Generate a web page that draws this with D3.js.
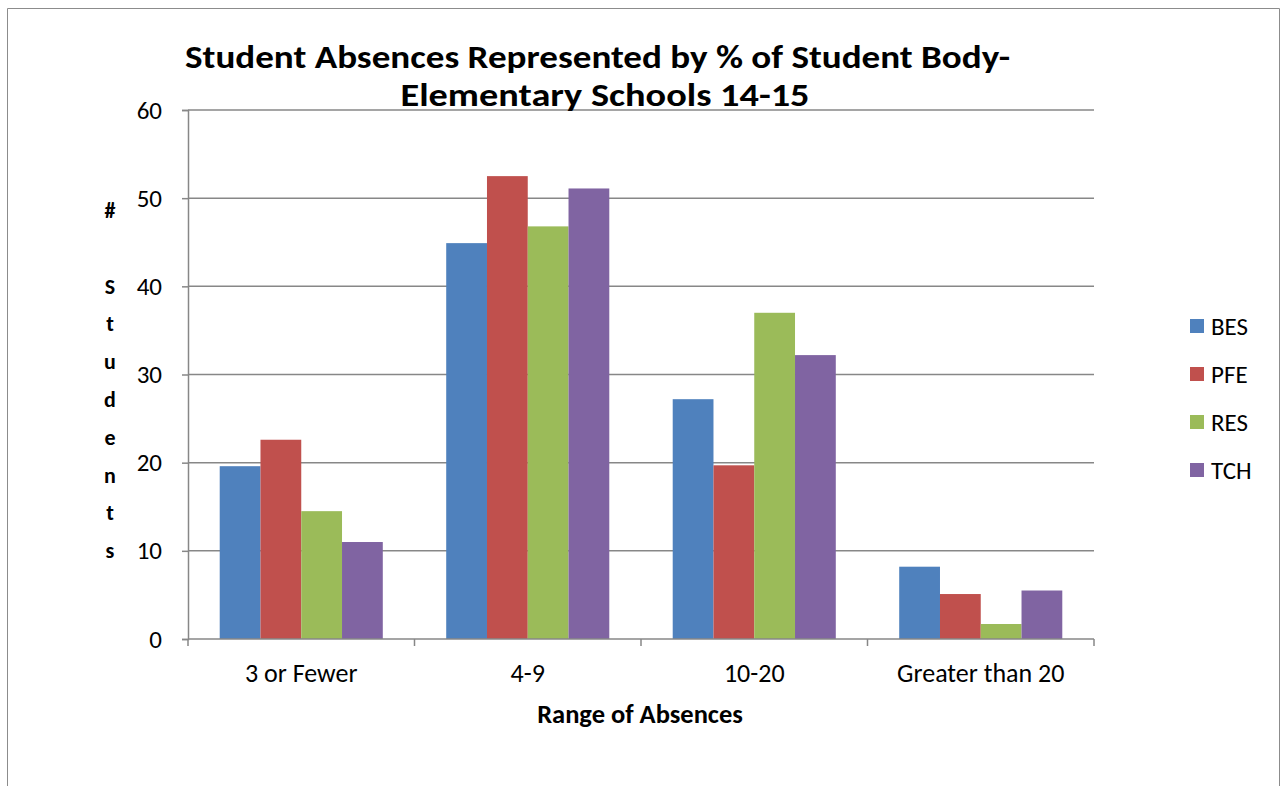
<!DOCTYPE html>
<html>
<head>
<meta charset="utf-8">
<script src="https://cdn.jsdelivr.net/npm/d3@7"></script>
<style>
  html, body { margin: 0; padding: 0; background: #fff; }
  svg { display: block; }
  text { font-family: Carlito, Calibri, Lato, sans-serif; fill: #000; }
</style>
</head>
<body>
<svg id="chart" width="1282" height="786"></svg>
<script>
const categories = ["3 or Fewer", "4-9", "10-20", "Greater than 20"];
const seriesNames = ["BES", "PFE", "RES", "TCH"];
const BES = [19.6, 44.9, 27.2, 8.2];
const PFE = [22.6, 52.5, 19.7, 5.1];
const RES = [14.5, 46.8, 37.0, 1.7];
const TCH = [11.0, 51.1, 32.2, 5.5];
const yTicks = [0, 10, 20, 30, 40, 50, 60];
const colors = ["#4F81BD", "#C0504D", "#9BBB59", "#8064A2"];
const titleLines = ["Student Absences Represented by % of Student Body-", "Elementary Schools 14-15"];
const xTitle = "Range of Absences";
const yTitleChars = ["#", "", "S", "t", "u", "d", "e", "n", "t", "s"];

const seriesValues = [BES, PFE, RES, TCH];

const svg = d3.select("#chart");
const L = 188, R = 1094, T = 110, B = 639;
const axisColor = "#878787";

// outer frame
svg.append("path")
  .attr("d", "M7.5,790 V8.5 H1279.5 V790")
  .attr("fill", "none").attr("stroke", "#8c8c8c").attr("stroke-width", 1);

const y = d3.scaleLinear().domain([0, 60]).range([B, T]);
const x0 = d3.scaleBand().domain(categories).range([L, R]).padding(0);
const bw = x0.bandwidth();
const gap = bw * 0.14;
const x1 = d3.scaleBand().domain(seriesNames).range([gap, bw - gap]).padding(0);

// gridlines
svg.append("g").selectAll("line").data(yTicks.filter(d => d > 0)).join("line")
  .attr("x1", L).attr("x2", R)
  .attr("y1", d => y(d)).attr("y2", d => y(d))
  .attr("stroke", axisColor).attr("stroke-width", 1.5);

// bars
const g = svg.append("g");
seriesNames.forEach((s, si) => {
  g.append("g").attr("fill", colors[si]).selectAll("rect")
    .data(seriesValues[si]).join("rect")
    .attr("x", (d, i) => x0(categories[i]) + x1(s))
    .attr("width", x1.bandwidth())
    .attr("y", d => y(d))
    .attr("height", d => y(0) - y(d));
});

// y axis
const yAxis = svg.append("g").attr("transform", `translate(${L},0)`)
  .call(d3.axisLeft(y).tickValues(yTicks).tickSize(6).tickPadding(20).tickFormat(d3.format("d")));
yAxis.select(".domain").attr("stroke", axisColor).attr("stroke-width", 1.5);
yAxis.selectAll(".tick line").attr("stroke", axisColor).attr("stroke-width", 1.5);
yAxis.selectAll(".tick text").style("font-size", "25px").attr("fill", "#000")
  .style("font-family", "Carlito, Calibri, Lato, sans-serif");

// x axis
const boundaries = categories.map(c => x0(c)).concat([R]);
const xg = svg.append("g");
xg.append("line").attr("x1", L).attr("x2", R).attr("y1", B).attr("y2", B)
  .attr("stroke", axisColor).attr("stroke-width", 1.5);
xg.selectAll("line.tk").data(boundaries).join("line").attr("class", "tk")
  .attr("x1", d => d).attr("x2", d => d).attr("y1", B).attr("y2", B + 7)
  .attr("stroke", axisColor).attr("stroke-width", 1.5);
xg.selectAll("text").data(categories).join("text")
  .attr("x", d => x0(d) + bw / 2).attr("y", 682)
  .attr("text-anchor", "middle").style("font-size", "26px").text(d => d);

// x title
svg.append("text").attr("x", 640).attr("y", 723).attr("text-anchor", "middle")
  .style("font-size", "26.5px").style("font-weight", "bold").text(xTitle);

// y title stacked
svg.append("g").selectAll("text").data(yTitleChars).join("text")
  .attr("x", 110).attr("y", (d, i) => 218 + i * 37.8)
  .attr("text-anchor", "middle").style("font-size", "22px").style("font-weight", "bold")
  .text(d => d);

// title
svg.append("text").attr("x", 597.5).attr("y", 68).attr("text-anchor", "middle")
  .style("font-size", "33px").style("font-weight", "bold")
  .attr("textLength", 825).attr("lengthAdjust", "spacingAndGlyphs")
  .text(titleLines[0]);
svg.append("text").attr("x", 605).attr("y", 106).attr("text-anchor", "middle")
  .style("font-size", "33px").style("font-weight", "bold")
  .attr("textLength", 409).attr("lengthAdjust", "spacingAndGlyphs")
  .text(titleLines[1]);

// legend
const leg = svg.append("g");
seriesNames.forEach((s, i) => {
  const cy = 326 + i * 48;
  leg.append("rect").attr("x", 1190).attr("y", cy - 7).attr("width", 14).attr("height", 14)
    .attr("fill", colors[i]);
  leg.append("text").attr("x", 1211).attr("y", cy + 9).style("font-size", "25px").text(s);
});
</script>
</body>
</html>
